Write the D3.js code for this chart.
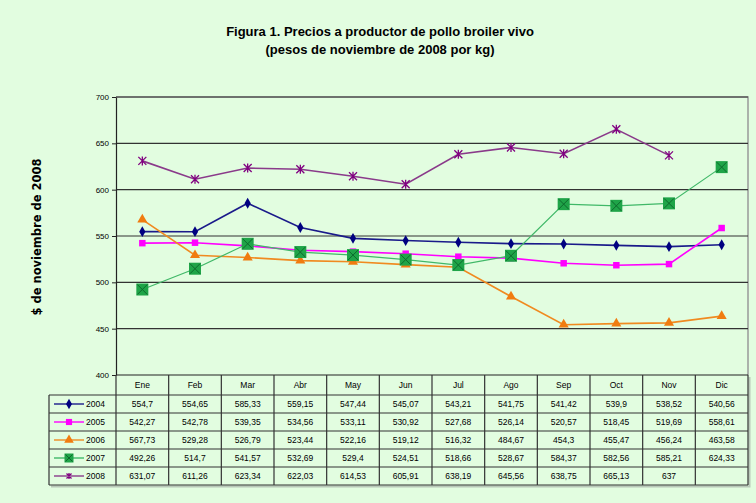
<!DOCTYPE html>
<html>
<head>
<meta charset="utf-8">
<script src="https://cdn.jsdelivr.net/npm/d3@7"></script>
<style>
  body { margin: 0; background: #e2fde0; }
  svg { display: block; }
</style>
</head>
<body>
<svg id="chart" width="756" height="503"></svg>
<script>
'use strict';

const months = ['Ene', 'Feb', 'Mar', 'Abr', 'May', 'Jun', 'Jul', 'Ago', 'Sep', 'Oct', 'Nov', 'Dic'];
const years = ['2004', '2005', '2006', '2007', '2008'];
const v2004 = [554.7, 554.65, 585.33, 559.15, 547.44, 545.07, 543.21, 541.75, 541.42, 539.9, 538.52, 540.56];
const v2005 = [542.27, 542.78, 539.35, 534.56, 533.11, 530.92, 527.68, 526.14, 520.57, 518.45, 519.69, 558.61];
const v2006 = [567.73, 529.28, 526.79, 523.44, 522.16, 519.12, 516.32, 484.67, 454.3, 455.47, 456.24, 463.58];
const v2007 = [492.26, 514.7, 541.57, 532.69, 529.4, 524.51, 518.66, 528.67, 584.37, 582.56, 585.21, 624.33];
const v2008 = [631.07, 611.26, 623.34, 622.03, 614.53, 605.91, 638.19, 645.56, 638.75, 665.13, 637, null];
const yTicks = [400, 450, 500, 550, 600, 650, 700];

const series = [
    { year: years[0], values: v2004, color: '#000080', line: '#1a1a8a', marker: 'diamond' },
    { year: years[1], values: v2005, color: '#ff00ff', line: '#ff00ff', marker: 'square' },
    { year: years[2], values: v2006, color: '#f07c10', line: '#f08a20', marker: 'triangle' },
    { year: years[3], values: v2007, color: '#1fa448', line: '#40b868', marker: 'bigsquare' },
    { year: years[4], values: v2008, color: '#800080', line: '#8a3a8a', marker: 'star' },
];

const FONT = '"Liberation Sans Narrow", "Arial Narrow", "Liberation Sans", Arial, sans-serif';

const plot = { left: 116, right: 748, top: 97, bottom: 375 };
const table = { left: 49, headerBottom: 395, rowH: 18 };

const svg = d3.select('#chart');

const x = d3.scaleBand().domain(months).range([plot.left, plot.right]);
const y = d3.scaleLinear().domain([400, 700]).range([plot.bottom, plot.top]);
const cx = (m) => x(m) + x.bandwidth() / 2;

// title
const title = svg.append('g')
    .attr('font-family', FONT)
    .attr('font-weight', 'bold')
    .attr('font-size', 13)
    .attr('text-anchor', 'middle')
    .attr('fill', '#000');
title.append('text').attr('x', 380).attr('y', 36).text('Figura 1. Precios a productor de pollo broiler vivo');
title.append('text').attr('x', 380).attr('y', 54).text('(pesos de noviembre de 2008 por kg)');

// y axis title
svg.append('text')
    .attr('transform', `translate(41, 237) rotate(-90)`)
    .attr('text-anchor', 'middle')
    .attr('font-family', '"DejaVu Sans", sans-serif')
    .attr('font-weight', 'bold')
    .attr('font-size', 11.5)
    .text('$ de noviembre de 2008');

// plot border (top/right)
svg.append('path')
    .attr('d', `M${plot.left},${plot.top}H${plot.right}V${plot.bottom}`)
    .attr('fill', 'none')
    .attr('stroke', '#999')
    .attr('stroke-width', 1.5);

// gridlines
svg.append('g')
    .selectAll('line')
    .data(yTicks.filter((d) => d > 400))
    .join('line')
    .attr('x1', plot.left).attr('x2', plot.right)
    .attr('y1', (d) => y(d)).attr('y2', (d) => y(d))
    .attr('stroke', '#333')
    .attr('stroke-width', 1.2);

// y axis
const yAxis = svg.append('g')
    .attr('transform', `translate(${plot.left},0)`)
    .call(d3.axisLeft(y).tickValues(yTicks).tickSize(4).tickSizeOuter(0).tickFormat(d3.format('d')));
yAxis.select('.domain').attr('stroke', '#222').attr('stroke-width', 1.2);
yAxis.selectAll('.tick line').attr('stroke', '#222');
yAxis.selectAll('.tick text')
    .attr('font-family', FONT)
    .attr('font-size', 8)
    .attr('fill', '#000');

// x axis line
svg.append('line')
    .attr('x1', plot.left).attr('x2', plot.right)
    .attr('y1', plot.bottom).attr('y2', plot.bottom)
    .attr('stroke', '#222').attr('stroke-width', 1.2);

// markers
function drawMarker(g, type, color, px, py, legend) {
    const k = legend ? 0.9 : 1;
    if (type === 'diamond') {
        g.append('path')
            .attr('d', d3.symbol(d3.symbolDiamond, 34 * k)())
            .attr('transform', `translate(${px},${py})`)
            .attr('fill', color);
    } else if (type === 'square') {
        g.append('path')
            .attr('d', d3.symbol(d3.symbolSquare, 42 * k)())
            .attr('transform', `translate(${px},${py})`)
            .attr('fill', color);
    } else if (type === 'triangle') {
        g.append('path')
            .attr('d', d3.symbol(d3.symbolTriangle, 44 * k)())
            .attr('transform', `translate(${px},${py})`)
            .attr('fill', color);
    } else if (type === 'bigsquare') {
        const s = legend ? 9 : 12;
        g.append('rect')
            .attr('x', px - s / 2).attr('y', py - s / 2)
            .attr('width', s).attr('height', s)
            .attr('fill', color);
        g.append('path')
            .attr('d', `M${px - s / 2 + 1},${py - s / 2 + 1}L${px + s / 2 - 1},${py + s / 2 - 1}M${px + s / 2 - 1},${py - s / 2 + 1}L${px - s / 2 + 1},${py + s / 2 - 1}`)
            .attr('stroke', '#0d6a2c')
            .attr('stroke-width', 1);
    } else if (type === 'star') {
        const r = legend ? 2.5 : 4;
        g.append('path')
            .attr('d', `M${px - r},${py - r}L${px + r},${py + r}M${px + r},${py - r}L${px - r},${py + r}M${px},${py - r - 0.5}V${py + r + 0.5}`)
            .attr('stroke', color)
            .attr('stroke-width', 1.3)
            .attr('fill', 'none');
    }
}

const lineGen = d3.line()
    .defined((d) => d.v !== null)
    .x((d) => cx(d.m))
    .y((d) => y(d.v));

series.forEach((s) => {
    const pts = months.map((m, i) => ({ m, v: s.values[i] }));
    const g = svg.append('g');
    g.append('path')
        .datum(pts)
        .attr('fill', 'none')
        .attr('stroke', s.line)
        .attr('stroke-width', s.marker === 'bigsquare' ? 1.2 : 1.6)
        .attr('d', lineGen);
    pts.filter((d) => d.v !== null).forEach((d) => drawMarker(g, s.marker, s.color, cx(d.m), y(d.v), false));
});

// data table
const tg = svg.append('g').attr('font-family', FONT).attr('font-size', 8.5).attr('fill', '#000');
const tableBottom = table.headerBottom + table.rowH * years.length;

// shadow
tg.append('path')
    .attr('d', `M${table.left + 2},${tableBottom + 1.5}H${plot.right + 1.5}V${plot.bottom + 2}`)
    .attr('fill', 'none')
    .attr('stroke', '#b8c8b8')
    .attr('stroke-width', 2);

// header labels
tg.selectAll('.hdr')
    .data(months)
    .join('text')
    .attr('class', 'hdr')
    .attr('x', (m) => cx(m))
    .attr('y', (plot.bottom + table.headerBottom) / 2 + 3)
    .attr('text-anchor', 'middle')
    .text((m) => m);

// horizontal rules
d3.range(years.length + 1).forEach((i) => {
    const ry = table.headerBottom + i * table.rowH;
    tg.append('line')
        .attr('x1', table.left).attr('x2', plot.right)
        .attr('y1', ry).attr('y2', ry)
        .attr('stroke', '#333').attr('stroke-width', 1.2);
});

// vertical rules
months.forEach((m) => {
    tg.append('line')
        .attr('x1', x(m)).attr('x2', x(m))
        .attr('y1', plot.bottom).attr('y2', tableBottom)
        .attr('stroke', '#333').attr('stroke-width', 1.2);
});
tg.append('line')
    .attr('x1', plot.right).attr('x2', plot.right)
    .attr('y1', plot.bottom).attr('y2', tableBottom)
    .attr('stroke', '#333').attr('stroke-width', 1.2);
tg.append('line')
    .attr('x1', table.left).attr('x2', table.left)
    .attr('y1', table.headerBottom).attr('y2', tableBottom)
    .attr('stroke', '#333').attr('stroke-width', 1.2);

const fmt = (v) => (v === null ? '' : String(v).replace('.', ','));

series.forEach((s, r) => {
    const rowMid = table.headerBottom + r * table.rowH + table.rowH / 2;
    // legend key
    tg.append('line')
        .attr('x1', table.left + 5).attr('x2', table.left + 35)
        .attr('y1', rowMid).attr('y2', rowMid)
        .attr('stroke', s.line).attr('stroke-width', 1.4);
    drawMarker(tg, s.marker, s.color, table.left + 20, rowMid, true);
    tg.append('text')
        .attr('x', table.left + 37)
        .attr('y', rowMid + 3)
        .text(s.year);
    // values
    tg.selectAll(null)
        .data(months.map((m, i) => ({ m, v: s.values[i] })))
        .join('text')
        .attr('x', (d) => cx(d.m))
        .attr('y', rowMid + 3)
        .attr('text-anchor', 'middle')
        .text((d) => fmt(d.v));
});
</script>
</body>
</html>
